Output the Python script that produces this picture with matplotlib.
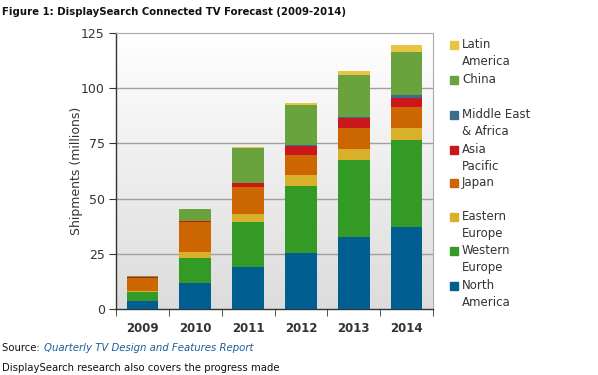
import matplotlib
matplotlib.use("Agg")
import matplotlib.pyplot as plt
import numpy as np

years = ["2009", "2010", "2011", "2012", "2013", "2014"]
north_america = [3.6, 11.7, 19.0, 25.3, 32.5, 37.0]
western_europe = [4.1, 11.3, 20.3, 30.3, 34.8, 39.4]
eastern_europe = [0.4, 2.8, 3.6, 4.9, 5.0, 5.8]
japan = [6.0, 13.7, 12.2, 9.1, 9.5, 9.1]
asia_pacific = [0.2, 0.4, 1.8, 4.2, 4.6, 4.2]
middle_east_africa = [0.0, 0.0, 0.1, 0.3, 0.5, 1.3]
china = [0.6, 5.3, 16.0, 18.1, 19.3, 19.5]
latin_america = [0.1, 0.0, 0.4, 1.3, 1.8, 3.1]

series = [
    ("North\nAmerica", north_america, "#005e91"),
    ("Western\nEurope", western_europe, "#339a25"),
    ("Eastern\nEurope", eastern_europe, "#d8b02a"),
    ("Japan", japan, "#cc6601"),
    ("Asia\nPacific", asia_pacific, "#c9171b"),
    ("Middle East\n& Africa", middle_east_africa, "#3b6d8c"),
    ("China", china, "#6aa33d"),
    ("Latin\nAmerica", latin_america, "#e9c443"),
]

W, H = 598, 375
fig = plt.figure(figsize=(W / 100, H / 100), dpi=100)
fig.patch.set_facecolor("white")

left, right, top, bottom = 116, 433, 33, 309
ax = fig.add_axes([left / W, 1 - bottom / H, (right - left) / W, (bottom - top) / H])

# gradient background
grad = np.linspace(1, 0, 256).reshape(-1, 1)
ax.imshow(grad, extent=[-0.5, 5.5, 0, 125], aspect="auto",
          cmap=matplotlib.colors.LinearSegmentedColormap.from_list("g", ["#dcdcdc", "#ffffff"]),
          zorder=0, interpolation="bicubic")

x = np.arange(len(years))
bottoms = np.zeros(len(years))
for name, vals, col in series:
    v = np.array(vals)
    ax.bar(x, v, bottom=bottoms, width=0.6, color=col, zorder=3, linewidth=0)
    bottoms += v

ax.set_xlim(-0.5, 5.5)
ax.set_ylim(0, 125)
ax.set_yticks([0, 25, 50, 75, 100, 125])
for yv in [25, 50, 75, 100]:
    ax.axhline(yv, color="#a0a0a0", lw=1.0, zorder=1)

ax.set_xticks(x)
ax.set_xticklabels(years, fontsize=8.5, color="#333333", fontweight="bold")
ax.tick_params(axis="x", length=0, pad=9)
ax.set_xticks(np.arange(-0.5, 6, 1), minor=True)
ax.tick_params(axis="x", which="minor", length=5, color="#333333", direction="out")
ax.tick_params(axis="y", length=5, color="#333333", labelsize=9, labelcolor="#333333", pad=3)

for s in ["top", "right"]:
    ax.spines[s].set_color("#aaaaaa")
    ax.spines[s].set_linewidth(0.8)
for s in ["left", "bottom"]:
    ax.spines[s].set_color("#333333")
    ax.spines[s].set_linewidth(1.0)

ax.set_ylabel("Shipments (millions)", fontsize=9, color="#333333", labelpad=-1.5)

# legend
legend_items = [
    ("Latin\nAmerica", "#e9c443", 45),
    ("China", "#6aa33d", 80),
    ("Middle East\n& Africa", "#3b6d8c", 115),
    ("Asia\nPacific", "#c9171b", 150),
    ("Japan", "#cc6601", 183),
    ("Eastern\nEurope", "#d8b02a", 217),
    ("Western\nEurope", "#339a25", 251),
    ("North\nAmerica", "#005e91", 286),
]
for label, col, yy in legend_items:
    fig.patches.append(matplotlib.patches.Rectangle(
        (450 / W, 1 - (yy + 4) / H), 8 / W, 8 / H, transform=fig.transFigure,
        color=col, figure=fig))
    fig.text(462 / W, 1 - (yy - 7) / H, label, fontsize=8.5, color="#333333",
             va="top", ha="left", linespacing=1.42)

fig.text(2 / W, 1 - 12 / H, "Figure 1: DisplaySearch Connected TV Forecast (2009-2014)",
         fontsize=7.3, fontweight="bold", color="#111111", va="center", ha="left")

t = fig.text(2 / W, 1 - 348 / H, "Source: ", fontsize=7.3, color="#111111", va="center", ha="left")
fig.canvas.draw()
bb = t.get_window_extent()
fig.text(bb.x1 / W + 0.002, 1 - 348 / H, "Quarterly TV Design and Features Report", fontsize=7.3,
         color="#1a5e9a", style="italic", va="center", ha="left")
fig.text(2 / W, 1 - 368 / H, "DisplaySearch research also covers the progress made",
         fontsize=7.3, color="#111111", va="center", ha="left")

fig.savefig("out.png", dpi=100)
